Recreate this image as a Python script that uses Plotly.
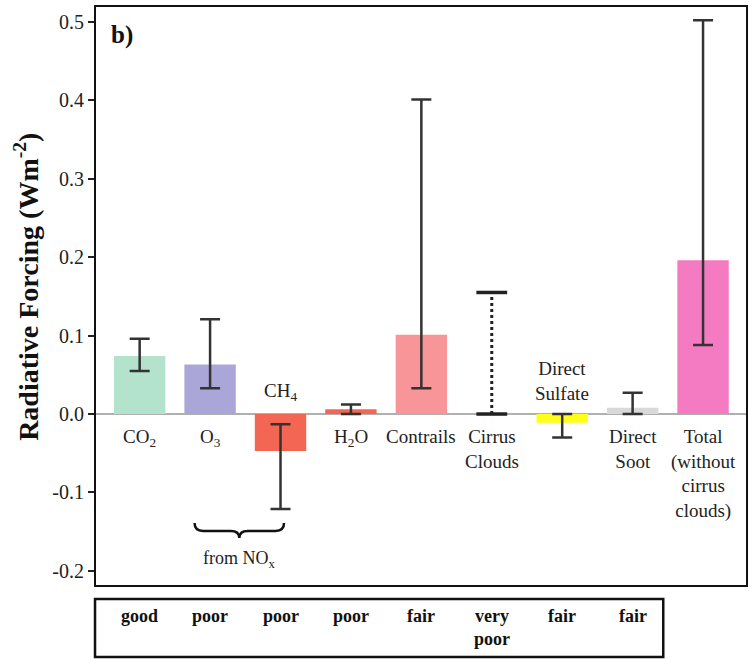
import plotly.graph_objects as go

# ---- data ----
categories = ["CO2", "O3", "CH4", "H2O", "Contrails", "Cirrus Clouds",
              "Direct Sulfate", "Direct Soot", "Total"]
labels_below = ["CO<sub>2</sub>", "O<sub>3</sub>", "", "H<sub>2</sub>O", "Contrails",
                "Cirrus<br>Clouds", "", "Direct<br>Soot",
                "Total<br>(without<br>cirrus<br>clouds)"]
labels_above = ["", "", "CH<sub>4</sub>", "", "", "", "Direct<br>Sulfate", "", ""]
values = [0.074, 0.063, -0.047, 0.006, 0.101, 0.0, -0.011, 0.008, 0.196]
err_low = [0.055, 0.033, -0.121, 0.0, 0.033, 0.0, -0.030, 0.0, 0.088]
err_high = [0.096, 0.121, -0.013, 0.012, 0.401, 0.155, 0.0, 0.027, 0.502]
bar_colors = ["#b3e3cd", "#aba6d8", "#f26653", "#f26653", "#f79598",
              "rgba(0,0,0,0)", "#ffff1a", "#d9d9d9", "#f47bc1"]
quality = ["good", "poor", "poor", "poor", "fair", "very<br>poor", "fair", "fair"]
ytick_vals = [-0.2, -0.1, 0.0, 0.1, 0.2, 0.3, 0.4, 0.5]
ytick_text = ["-0.2", "-0.1", "0.0", "0.1", "0.2", "0.3", "0.4", "0.5"]
dotted_index = 5          # Cirrus clouds: dotted range only
brace_from = ("O3", "CH4")
brace_label = "from NO<sub>x</sub>"

FONT = "Liberation Serif"
xs = list(range(len(categories)))

fig = go.Figure()
fig.add_trace(go.Bar(
    x=xs, y=values, width=0.73,
    marker=dict(color=bar_colors, line=dict(width=0)),
    showlegend=False, hoverinfo="skip"))

# solid error bars (all but cirrus)
ex = [x for x in xs if x != dotted_index]
ey = [values[i] for i in ex]
fig.add_trace(go.Scatter(
    x=ex, y=ey, mode="markers",
    marker=dict(size=1, opacity=0),
    error_y=dict(type="data", symmetric=False,
                 array=[err_high[i] - values[i] for i in ex],
                 arrayminus=[values[i] - err_low[i] for i in ex],
                 color="#333333", thickness=2.5, width=10),
    showlegend=False, hoverinfo="skip"))

# dotted cirrus range
d = dotted_index
fig.add_trace(go.Scatter(
    x=[d, d], y=[err_low[d], err_high[d]], mode="lines",
    line=dict(color="#222222", width=3, dash="dot"),
    showlegend=False, hoverinfo="skip"))
fig.add_trace(go.Scatter(
    x=[d, d], y=[err_low[d], err_high[d]], mode="markers",
    marker=dict(symbol="line-ew", size=22, line=dict(color="#222222", width=3.5)),
    showlegend=False, hoverinfo="skip"))

LAB = 19
ann = []
for i, t in enumerate(labels_below):
    if t:
        ann.append(dict(x=i, y=0, xref="x", yref="y", text=t, showarrow=False,
                        yanchor="top", yshift=-10,
                        font=dict(family=FONT, size=LAB, color="#222")))
for i, t in enumerate(labels_above):
    if t:
        ann.append(dict(x=i, y=0, xref="x", yref="y", text=t, showarrow=False,
                        yanchor="bottom", yshift=8,
                        font=dict(family=FONT, size=LAB, color="#222")))

# brace under O3..CH4
i0 = categories.index(brace_from[0])
i1 = categories.index(brace_from[1])
xa, xb = i0 - 0.22, i1 + 0.05
xm = (xa + xb) / 2
yt, ymid, yb = -0.139, -0.149, -0.158
dx = 0.12
path = (f"M {xa},{yt} Q {xa},{ymid} {xa+dx},{ymid} L {xm-dx},{ymid} "
        f"Q {xm},{ymid} {xm},{yb} Q {xm},{ymid} {xm+dx},{ymid} "
        f"L {xb-dx},{ymid} Q {xb},{ymid} {xb},{yt}")
shapes = [dict(type="path", path=path, xref="x", yref="y",
               line=dict(color="#111", width=2.5))]
ann.append(dict(x=xm, y=-0.185, xref="x", yref="y", text=brace_label,
                showarrow=False, font=dict(family=FONT, size=18, color="#222")))

# panel letter
ann.append(dict(x=0.02, y=0.98, xref="paper", yref="paper", text="<b>b)</b>",
                showarrow=False, xanchor="left", yanchor="top",
                font=dict(family=FONT, size=25, color="#111")))
# y title
ann.append(dict(x=-0.106, y=0.516, xref="paper", yref="paper",
                text="<b>Radiative Forcing (Wm<sup>-2</sup>)</b>", textangle=-90,
                showarrow=False, xanchor="center", yanchor="middle",
                font=dict(family=FONT, size=28, color="#111")))

# quality table
shapes.append(dict(type="rect", xref="paper", yref="paper",
                   x0=-0.0015, x1=0.8727, y0=-0.1246, y1=-0.0242,
                   line=dict(color="#111", width=2.5)))
for i, q in enumerate(quality):
    ann.append(dict(x=i, y=-0.033, xref="x", yref="paper", text=f"<b>{q}</b>",
                    showarrow=False, yanchor="top",
                    font=dict(family=FONT, size=18, color="#111")))

fig.update_layout(
    width=749, height=659,
    margin=dict(l=96, r=1, t=7, b=74),
    plot_bgcolor="white", paper_bgcolor="white",
    font=dict(family=FONT),
    shapes=shapes, annotations=ann,
    xaxis=dict(range=[-0.62, 8.61], showticklabels=False, ticks="",
               showgrid=False, zeroline=False, showline=True, mirror=True,
               linecolor="#111", linewidth=2),
    yaxis=dict(range=[-0.218, 0.519], tickvals=ytick_vals, ticktext=ytick_text,
               ticks="outside", ticklen=6, tickwidth=2, tickcolor="#222",
               tickfont=dict(family=FONT, size=20, color="#222"),
               showgrid=False, zeroline=True, zerolinecolor="#b0b0b0",
               zerolinewidth=1.5, showline=True, mirror=True,
               linecolor="#111", linewidth=2),
)

fig.write_html("out.html", config={"responsive": False, "displayModeBar": False},
               post_script="document.body.style.margin='0';"
                           "document.body.style.overflow='hidden';")
